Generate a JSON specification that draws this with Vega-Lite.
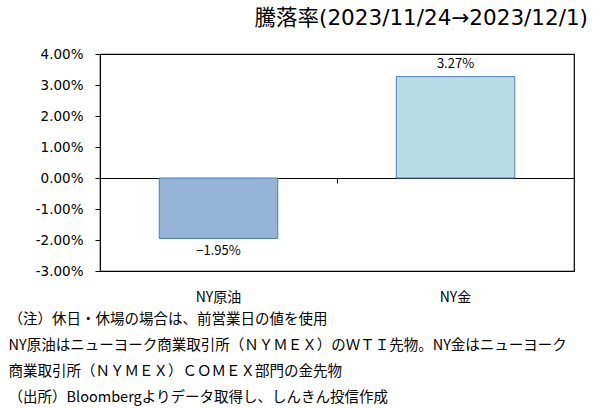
{
  "$schema": "https://vega.github.io/schema/vega-lite/v6.json",
  "width": 474,
  "height": 217,
  "autosize": {"type": "none"},
  "padding": {"left": 100, "top": 54, "right": 29, "bottom": 137},
  "background": "#ffffff",
  "title": {
    "text": "騰落率(2023/11/24→2023/12/1)",
    "anchor": "end",
    "dx": 14,
    "offset": 18,
    "font": "DejaVu Sans, Noto Sans CJK JP",
    "fontSize": 21.5,
    "fontWeight": "normal",
    "color": "#000000"
  },
  "config": {
    "view": {"stroke": "#000000", "strokeWidth": 1.2},
    "font": "Noto Sans CJK JP"
  },
  "data": {
    "values": [
      {"item": "NY原油", "value": -0.0195},
      {"item": "NY金", "value": 0.0327}
    ]
  },
  "encoding": {
    "x": {
      "field": "item",
      "type": "nominal",
      "sort": null,
      "scale": {"paddingInner": 0.5, "paddingOuter": 0.25},
      "axis": {
        "orient": "bottom",
        "offset": -93,
        "domainColor": "#000000",
        "domainWidth": 1,
        "bandPosition": -0.5,
        "tickColor": "#000000",
        "tickSize": 5,
        "labelAngle": 0,
        "labelPadding": 107,
        "labelFontSize": 14,
        "labelColor": "#000000",
        "labelFont": "Noto Sans CJK JP",
        "title": [
          "（注）休日・休場の場合は、前営業日の値を使用",
          "NY原油はニューヨーク商業取引所（ＮＹＭＥＸ）のＷＴＩ先物。NY金はニューヨーク",
          "商業取引所（ＮＹＭＥＸ）ＣＯＭＥＸ部門の金先物",
          "（出所）Bloombergよりデータ取得し、しんきん投信作成"
        ],
        "titleAnchor": "start",
        "titleAlign": "left",
        "titleBaseline": "top",
        "titleX": -92,
        "titleY": 134,
        "titleLineHeight": 26,
        "titleFontSize": 14.5,
        "titleFontWeight": "normal",
        "titleColor": "#000000",
        "titleFont": "Noto Sans CJK JP"
      }
    },
    "y": {
      "field": "value",
      "type": "quantitative",
      "scale": {"domain": [-0.03, 0.04], "nice": false, "zero": false},
      "axis": {
        "values": [-0.03, -0.02, -0.01, 0, 0.01, 0.02, 0.03, 0.04],
        "format": ".2%",
        "labelExpr": "replace(datum.label, '−', '-')",
        "grid": false,
        "domainColor": "#000000",
        "tickColor": "#000000",
        "tickSize": 5,
        "labelPadding": 12,
        "labelFontSize": 13.5,
        "labelColor": "#000000",
        "labelFont": "DejaVu Sans",
        "title": null
      }
    }
  },
  "layer": [
    {
      "mark": {"type": "bar", "stroke": "#4A7EBB", "strokeWidth": 1},
      "encoding": {
        "color": {
          "field": "item",
          "type": "nominal",
          "scale": {"domain": ["NY原油", "NY金"], "range": ["#95B3D7", "#B7DEE8"]},
          "legend": null
        }
      }
    },
    {
      "transform": [{"filter": "datum.value >= 0"}],
      "mark": {"type": "text", "baseline": "bottom", "dy": -6, "fontSize": 13, "font": "Noto Sans CJK JP", "color": "#000000"},
      "encoding": {"text": {"field": "value", "type": "quantitative", "format": ".2%"}}
    },
    {
      "transform": [{"filter": "datum.value < 0"}],
      "mark": {"type": "text", "baseline": "top", "dy": 7, "fontSize": 13, "font": "Noto Sans CJK JP", "color": "#000000"},
      "encoding": {"text": {"field": "value", "type": "quantitative", "format": ".2%"}}
    }
  ]
}
